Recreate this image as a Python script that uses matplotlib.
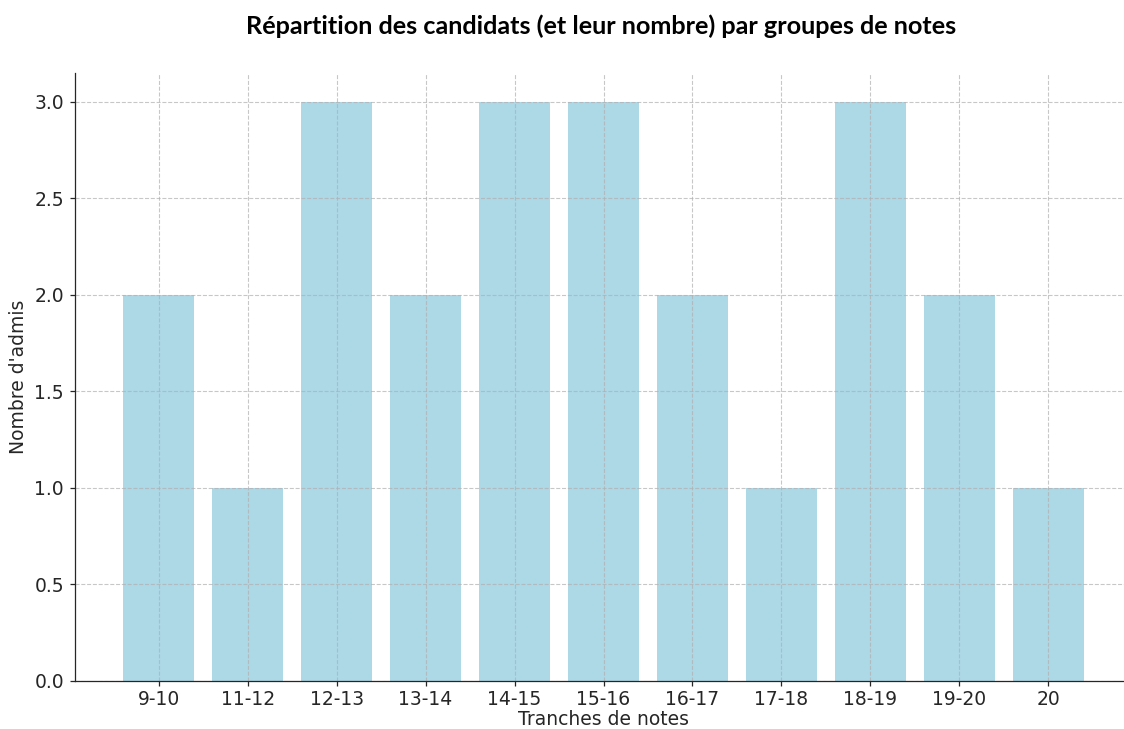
import matplotlib
matplotlib.use('Agg')
import matplotlib.pyplot as plt

# Data
tranches = ['9-10', '11-12', '12-13', '13-14', '14-15', '15-16',
            '16-17', '17-18', '18-19', '19-20', '20']
admis = [2, 1, 3, 2, 3, 3, 2, 1, 3, 2, 1]

plt.rcParams['font.family'] = 'DejaVu Sans'
plt.rcParams['font.size'] = 12
plt.rcParams['text.color'] = '#262626'
plt.rcParams['axes.labelcolor'] = '#262626'
plt.rcParams['xtick.color'] = '#262626'
plt.rcParams['ytick.color'] = '#262626'

fig = plt.figure(figsize=(10, 729 / 112.4), dpi=112.4)
ax = fig.add_axes([75 / 1124, 48 / 729, 1057 / 1124, 608 / 729])

ax.bar(tranches, admis, color='lightblue', width=0.8)
ax.grid(True, linestyle='--', color='#b0b0b0', linewidth=0.7, alpha=0.7)
ax.tick_params(axis='x', pad=2)

ax.spines['top'].set_visible(False)
ax.spines['right'].set_visible(False)
ax.spines['left'].set_color('#262626')
ax.spines['bottom'].set_color('#262626')

ax.set_xlabel('Tranches de notes', labelpad=1)
ax.set_ylabel("Nombre d'admis", labelpad=4)
fig.text(0.535, 0.964, 'Répartition des candidats (et leur nombre) par groupes de notes',
         ha='center', va='center', fontsize=16.2, fontweight='bold',
         family='Lato', color='black')

fig.savefig('out.png', dpi=112.4)
